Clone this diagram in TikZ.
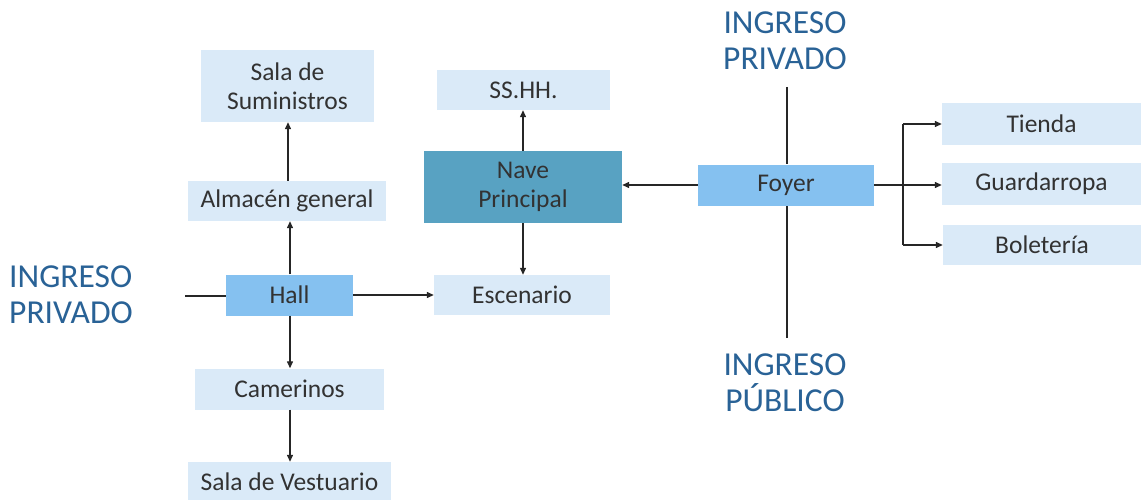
\documentclass[tikz,border=0pt]{standalone}
\usepackage{fontspec}
\setmainfont{Carlito}
\usetikzlibrary{arrows.meta}
\definecolor{lightbox}{RGB}{218,234,248}
\definecolor{midbox}{RGB}{133,193,240}
\definecolor{darkbox}{RGB}{88,162,194}
\definecolor{ingblue}{RGB}{41,98,150}
\definecolor{txt}{RGB}{50,50,50}
\begin{document}
\begin{tikzpicture}[x=1pt,y=-1pt,
  box/.style={inner sep=0pt, align=center, text=txt,
    font=\fontsize{25.5}{29}\selectfont},
  light/.style={box, fill=lightbox},
  mid/.style={box, fill=midbox},
  dark/.style={box, fill=darkbox},
  ing/.style={align=center, text=ingblue, inner sep=0pt,
    font=\fontsize{33.5}{36}\selectfont},
  conn/.style={line width=1.3pt, draw=black!85},
  arr/.style={conn, -{Triangle[length=7pt,width=6pt]}}]
\useasboundingbox (0,0) rectangle (1143,500);

\node[light, minimum width=173, minimum height=72] (sum) at (287.5,86) {Sala de\\Suministros};
\node[light, minimum width=173, minimum height=40] (ss) at (523.5,90) {SS.HH.};
\node[light, minimum width=198, minimum height=40] (alm) at (287,201) {Almacén general};
\node[dark, minimum width=198, minimum height=72] (nave) at (523,187) {Nave\\Principal};
\node[mid, minimum width=127, minimum height=41] (hall) at (289.5,295) {Hall};
\node[light, minimum width=176, minimum height=40] (esc) at (522,295) {Escenario};
\node[light, minimum width=189, minimum height=41] (cam) at (289.5,389) {Camerinos};
\node[light, minimum width=203, minimum height=40] (ves) at (289.5,482) {Sala de Vestuario};
\node[mid, minimum width=176, minimum height=41] (foy) at (786,185) {Foyer};
\node[light, minimum width=199, minimum height=42] (tie) at (1041.5,124) {Tienda};
\node[light, minimum width=199, minimum height=42] (gua) at (1041.5,184) {Guardarropa};
\node[light, minimum width=198, minimum height=40] (bol) at (1042,245) {Boletería};

\node[ing] (ingtop) at (785,41) {INGRESO\\PRIVADO};
\node[ing, align=left, anchor=west] (ingleft) at (9,295) {INGRESO\\PRIVADO};
\node[ing] (ingbot) at (785,383) {INGRESO\\PÚBLICO};

\coordinate (topend) at (787,87);
\coordinate (botend) at (787,338);
\coordinate (leftend) at (185,296);
\coordinate (split) at (903,185);

\draw[arr] (hall.north -| 290,0) -- (alm.south -| 290,0);
\draw[arr] (alm.north -| 288,0) -- (sum.south -| 288,0);
\draw[arr] (hall.south -| 290,0) -- (cam.north -| 290,0);
\draw[arr] (cam.south -| 290,0) -- (ves.north -| 290,0);
\draw[arr] (hall.east) -- (esc.west);
\draw[conn] (leftend) -- (hall.west |- leftend);
\draw[arr] (nave.north) -- (ss.south -| nave.north);
\draw[arr] (nave.south) -- (esc.north -| nave.south);
\draw[arr] (foy.west) -- (nave.east |- foy.west);
\draw[conn] (topend) -- (foy.north -| topend);
\draw[conn] (botend) -- (foy.south -| botend);
\draw[conn] (foy.east) -- (split);
\draw[arr] (split |- tie.west) -- (tie.west);
\draw[arr] (split) -- (gua.west |- split);
\draw[arr] (split |- bol.west) -- (bol.west);
\draw[conn] (split |- tie.west) -- (split |- bol.west);
\end{tikzpicture}
\end{document}
